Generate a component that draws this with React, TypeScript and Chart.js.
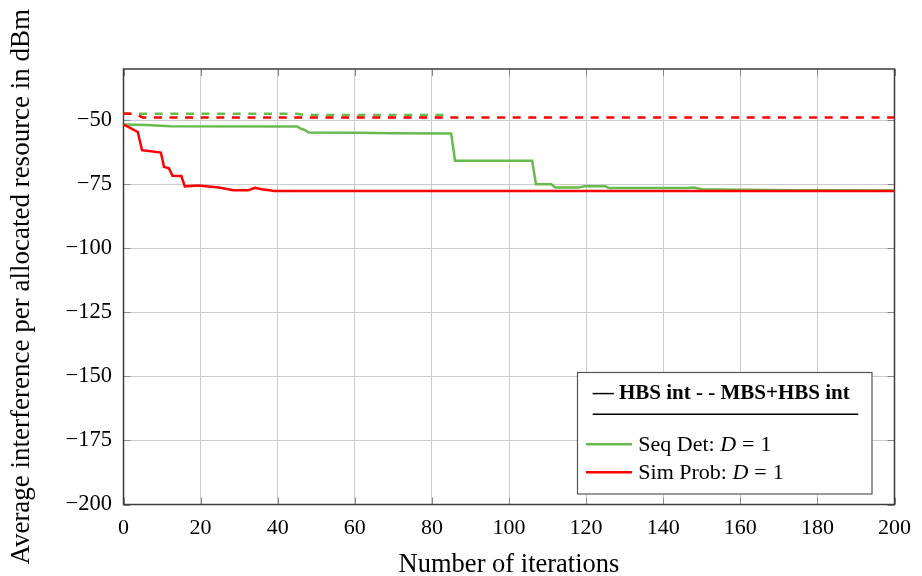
import React, { useEffect, useRef } from "react";
import { Chart, registerables } from "chart.js";

Chart.register(...registerables);

// ---- Data ----
const seqDetHbsIter = [0, 6, 12, 45, 46, 47, 48, 60, 70, 85, 86, 106, 107, 111, 112, 118, 119.5, 125, 126, 146, 148, 150, 160, 175, 200];
const seqDetHbsVal = [-51.7, -51.9, -52.3, -52.4, -53.3, -53.8, -54.8, -54.9, -55.1, -55.2, -65.8, -65.8, -75.0, -75.0, -76.3, -76.3, -75.8, -75.8, -76.5, -76.5, -76.3, -76.9, -77.1, -77.3, -77.4];

const seqDetMbsIter = [0, 45, 47, 85];
const seqDetMbsVal = [-47.5, -47.5, -48.0, -48.0];

const simProbHbsIter = [0, 1.5, 3.7, 4.8, 9.7, 10.5, 11.8, 12.7, 15, 15.9, 19.5, 24.7, 28.5, 32.4, 34.1, 35.8, 39.2, 200];
const simProbHbsVal = [-51.7, -52.8, -54.6, -61.7, -62.6, -68.2, -68.8, -71.7, -71.8, -75.8, -75.5, -76.3, -77.3, -77.3, -76.4, -76.9, -77.6, -77.6];

const simProbMbsIter = [0, 3, 5, 200];
const simProbMbsVal = [-47.4, -47.5, -48.9, -48.9];

const xTickValues = [0, 20, 40, 60, 80, 100, 120, 140, 160, 180, 200];
const yTickValues = [-200, -175, -150, -125, -100, -75, -50];

const seriesLabels = ["Seq Det", "Sim Prob"];
const legendHeader = "— HBS int - - MBS+HBS int";
const xTitle = "Number of iterations";
const yTitle = "Average interference per allocated resource in dBm";

const GREEN = "rgb(102,187,76)";
const RED = "rgb(255,0,0)";
const FONT = "'Liberation Serif', 'Times New Roman', serif";
const DASH = [8, 7.6];

const toPoints = (xs: number[], ys: number[]) => xs.map((x, i) => ({ x, y: ys[i] }));
const fmt = (v: number) => (v < 0 ? "\u2212" + Math.abs(v) : String(v));

const framePlugin = {
  id: "frameAndLegend",
  beforeDatasetsDraw(chart: any) {
    const { ctx, chartArea: a, scales } = chart;
    ctx.save();
    ctx.strokeStyle = "#8a8a8a";
    ctx.lineWidth = 1;
    const tl = 7;
    ctx.beginPath();
    for (const v of xTickValues) {
      const x = Math.round(scales.x.getPixelForValue(v)) + 0.5;
      ctx.moveTo(x, a.bottom);
      ctx.lineTo(x, a.bottom - tl);
      ctx.moveTo(x, a.top);
      ctx.lineTo(x, a.top + tl);
    }
    for (const v of yTickValues) {
      const y = Math.round(scales.y.getPixelForValue(v)) + 0.5;
      ctx.moveTo(a.left, y);
      ctx.lineTo(a.left + tl, y);
      ctx.moveTo(a.right, y);
      ctx.lineTo(a.right - tl, y);
    }
    ctx.stroke();
    ctx.strokeStyle = "#3c3c3c";
    ctx.lineWidth = 1.5;
    ctx.strokeRect(a.left, a.top, a.right - a.left, a.bottom - a.top);
    ctx.restore();
  },
  afterDraw(chart: any) {
    const { ctx } = chart;
    ctx.save();
    // box
    const bx = 577.5, by = 372.5, bw = 294.5, bh = 121.5;
    ctx.fillStyle = "#ffffff";
    ctx.fillRect(bx, by, bw, bh);
    ctx.strokeStyle = "#555555";
    ctx.lineWidth = 1.2;
    ctx.strokeRect(bx, by, bw, bh);
    // header
    ctx.fillStyle = "#000";
    ctx.textBaseline = "alphabetic";
    ctx.textAlign = "left";
    ctx.font = `bold 21px ${FONT}`;
    ctx.fillText(legendHeader, 592.7, 398.5);
    ctx.strokeStyle = "#000";
    ctx.lineWidth = 1.6;
    ctx.beginPath();
    ctx.moveTo(592.7, 414.3);
    ctx.lineTo(858.3, 414.3);
    ctx.stroke();
    // entries
    const entries = [
      { label: seriesLabels[0], color: GREEN, y: 444.3, base: 450.5 },
      { label: seriesLabels[1], color: RED, y: 472.3, base: 478.5 },
    ];
    for (const e of entries) {
      ctx.strokeStyle = e.color;
      ctx.lineWidth = 2.4;
      ctx.beginPath();
      ctx.moveTo(586, e.y);
      ctx.lineTo(632, e.y);
      ctx.stroke();
      let x = 638.3;
      ctx.font = `22px ${FONT}`;
      const p1 = e.label + ": ";
      ctx.fillText(p1, x, e.base);
      x += ctx.measureText(p1).width;
      ctx.font = `italic 22px ${FONT}`;
      ctx.fillText("D", x, e.base);
      x += ctx.measureText("D").width + 6;
      ctx.font = `22px ${FONT}`;
      ctx.fillText("=", x, e.base);
      x += ctx.measureText("=").width + 6;
      ctx.fillText("1", x, e.base);
    }
    ctx.restore();
  },
};

export default function App() {
  const ref = useRef<HTMLCanvasElement | null>(null);

  useEffect(() => {
    document.body.style.margin = "0";
    const canvas = ref.current;
    if (!canvas) return;
    const chart = new Chart(canvas, {
      type: "line",
      data: {
        datasets: [
          {
            label: seriesLabels[1] + " HBS",
            data: toPoints(simProbHbsIter, simProbHbsVal),
            borderColor: RED,
            borderWidth: 2.5,
            order: 0,
          },
          {
            label: seriesLabels[1] + " MBS+HBS",
            data: toPoints(simProbMbsIter, simProbMbsVal),
            borderColor: RED,
            borderWidth: 2.5,
            borderDash: DASH,
            order: 1,
          },
          {
            label: seriesLabels[0] + " HBS",
            data: toPoints(seqDetHbsIter, seqDetHbsVal),
            borderColor: GREEN,
            borderWidth: 2.5,
            order: 2,
          },
          {
            label: seriesLabels[0] + " MBS+HBS",
            data: toPoints(seqDetMbsIter, seqDetMbsVal),
            borderColor: GREEN,
            borderWidth: 2.5,
            borderDash: DASH,
            order: 3,
          },
        ],
      },
      options: {
        responsive: false,
        animation: false,
        devicePixelRatio: 1,
        layout: { padding: { left: 0, right: 20.5, top: 69, bottom: 0 } },
        elements: {
          point: { radius: 0 },
          line: { tension: 0, fill: false, borderCapStyle: "butt", borderJoinStyle: "miter" },
        },
        plugins: { legend: { display: false }, tooltip: { enabled: false } },
        scales: {
          x: {
            type: "linear",
            min: 0,
            max: 200,
            afterBuildTicks: (s: any) => {
              s.ticks = xTickValues.map((v) => ({ value: v }));
            },
            afterFit: (s: any) => {
              s.height = 71.5;
            },
            grid: { color: "#cccccc", lineWidth: 1, drawTicks: false },
            border: { display: false },
            ticks: {
              font: { family: FONT, size: 22, lineHeight: 1.2 },
              color: "#000",
              padding: 11,
              maxRotation: 0,
              autoSkip: false,
              callback: (v: any) => fmt(Number(v)),
            },
            title: {
              display: true,
              text: xTitle,
              color: "#000",
              font: { family: FONT, size: 26.5, lineHeight: 1 },
              padding: { top: 0, bottom: -2 },
            },
          },
          y: {
            type: "linear",
            min: -200,
            max: -30,
            afterBuildTicks: (s: any) => {
              s.ticks = yTickValues.map((v) => ({ value: v }));
            },
            afterFit: (s: any) => {
              s.width = 123.5;
            },
            grid: { color: "#cccccc", lineWidth: 1, drawTicks: false },
            border: { display: false },
            ticks: {
              font: { family: FONT, size: 22.5, lineHeight: 1.2 },
              color: "#000",
              padding: 11.5,
              autoSkip: false,
              callback: (v: any) => fmt(Number(v)),
            },
            title: {
              display: true,
              text: yTitle,
              color: "#000",
              font: { family: FONT, size: 27, lineHeight: 1 },
              padding: { top: 8.5, bottom: 0 },
            },
          },
        },
      },
      plugins: [framePlugin],
    } as any);
    return () => chart.destroy();
  }, []);

  return (
    <div style={{ position: "absolute", left: 0, top: 0, width: 922, height: 576, background: "#fff" }}>
      <canvas ref={ref} width={922} height={576} style={{ display: "block" }} />
    </div>
  );
}
